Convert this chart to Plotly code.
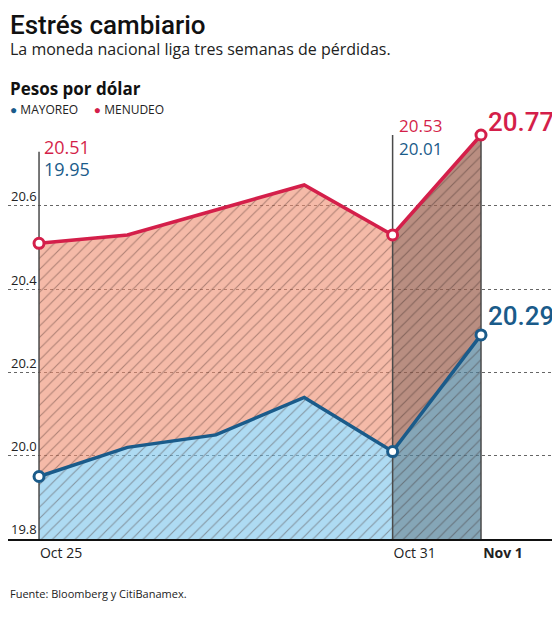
import plotly.graph_objects as go

# Pesos por dólar, cierre diario
dates = ["Oct 25", "Oct 28", "Oct 29", "Oct 30", "Oct 31", "Nov 1"]
menudeo = [20.51, 20.53, 20.59, 20.65, 20.53, 20.77]
mayoreo = [19.95, 20.02, 20.05, 20.14, 20.01, 20.29]

tick_dates = ["Oct 25", "Oct 31", "Nov 1"]
tick_text = ["Oct 25", "Oct 31", "<b>Nov 1</b>"]
y_ticks = [19.8, 20.0, 20.2, 20.4, 20.6]

RED = "#d41f4a"
BLUE = "#1a5b8a"
COND = "Roboto, sans-serif"
BODY = "Open Sans, Noto Sans, sans-serif"

hatch = dict(shape="/", fgcolor="rgba(70,45,40,0.8)", size=8,
             solidity=0.14, fillmode="overlay")

fig = go.Figure()

# areas: blue down to the base, red between the two lines
fig.add_trace(go.Scatter(x=dates, y=mayoreo, mode="lines", line_width=0,
                         fill="tozeroy", fillcolor="rgba(120,195,235,0.6)",
                         fillpattern=hatch, hoverinfo="skip"))
fig.add_trace(go.Scatter(x=dates, y=menudeo, mode="lines", line_width=0,
                         fill="tonexty", fillcolor="rgba(238,140,110,0.6)",
                         fillpattern=hatch, hoverinfo="skip"))
# darker band for the last day
fig.add_trace(go.Scatter(x=dates[4:], y=menudeo[4:], mode="lines",
                         line_width=0, fill="tozeroy",
                         fillcolor="rgba(30,30,30,0.28)", hoverinfo="skip"))

# vertical guide lines
guide_x = [dates[0], dates[0], None, dates[4], dates[4], None,
           dates[5], dates[5]]
guide_y = [19.8, 20.73, None, 19.8, menudeo[5], None, 19.8, menudeo[5]]
fig.add_trace(go.Scatter(x=guide_x, y=guide_y, mode="lines",
                         line=dict(color="#4a4a4a", width=1.5),
                         hoverinfo="skip"))

# the two series
for vals, col in [(menudeo, RED), (mayoreo, BLUE)]:
    idx = [0, 4, 5]
    fig.add_trace(go.Scatter(x=dates, y=vals, mode="lines",
                             line=dict(color=col, width=3.5)))
    fig.add_trace(go.Scatter(x=[dates[i] for i in idx],
                             y=[vals[i] for i in idx], mode="markers",
                             marker=dict(size=10, color="white",
                                         line=dict(color=col, width=3))))


def ann(text, x, y, size, color, font=BODY, xref="paper", xshift=0,
        weight="normal"):
    fig.add_annotation(text=text, x=x, y=y, xref=xref, yref="paper",
                       xanchor="left", yanchor="middle", showarrow=False,
                       xshift=xshift,
                       font=dict(size=size, color=color, family=font,
                                 weight=weight))


# value labels
ann("20.51", dates[0], 0.936, 18, RED, xref="x", xshift=3)
ann("19.95", dates[0], 0.882, 18, BLUE, xref="x", xshift=3)
ann("20.53", dates[4], 0.988, 17, RED, xref="x", xshift=4)
ann("20.01", dates[4], 0.932, 17, BLUE, xref="x", xshift=4)
ann("20.77", dates[5], 0.995, 26, RED, font=COND, xref="x", xshift=5,
    weight=500)
ann("20.29", dates[5], 0.533, 26, BLUE, font=COND, xref="x", xshift=5,
    weight=500)

# heading
ann("Estrés cambiario", 0, 1.227, 26, "#111", font=COND, weight=500)
ann("La moneda nacional liga tres semanas de pérdidas.", 0, 1.170, 16,
    "#222")
ann("<b>Pesos por dólar</b>", 0, 1.076, 17, "#111")
ann("<span style='color:%s'>●</span> MAYOREO     "
    "<span style='color:%s'>●</span> MENUDEO" % (BLUE, RED),
    0, 1.024, 12, "#222")
ann("Fuente: Bloomberg y CitiBanamex.", 0, -0.13, 11, "#222")

# page body adds 8px around the figure, keep it inside the window
fig.update_layout(
    width=552, height=604, showlegend=False,
    margin=dict(l=0, r=5, t=112, b=73),
    plot_bgcolor="white", paper_bgcolor="white",
    font=dict(family=BODY, color="#222"),
)
fig.update_xaxes(type="category", range=[-0.351, 5.837],
                 tickvals=tick_dates, ticktext=tick_text,
                 ticklabelshift=22, ticklabelstandoff=0,
                 tickfont=dict(size=14, color="#222"),
                 showgrid=False, showline=True, linecolor="#111",
                 linewidth=2, ticks="")
fig.update_yaxes(range=[19.8, 20.806], tickvals=y_ticks, tickformat=".1f",
                 ticklabelposition="inside top",
                 tickfont=dict(size=13, color="#222"),
                 showgrid=True, gridcolor="#666", griddash="dot",
                 gridwidth=1, zeroline=False, showline=False)

fig.write_html("out.html")
